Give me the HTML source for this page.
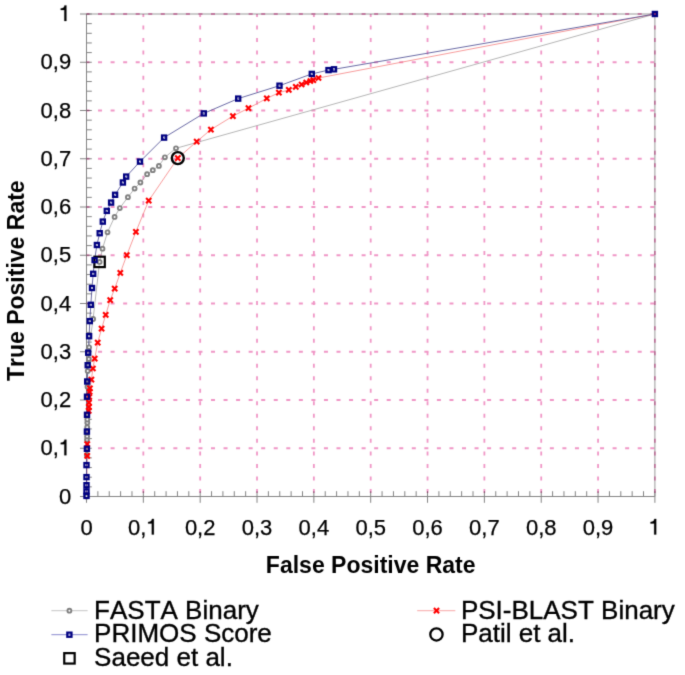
<!DOCTYPE html>
<html><head><meta charset="utf-8"><style>
html,body{margin:0;padding:0;background:#fff;}
svg{display:block;font-family:"Liberation Sans",sans-serif;font-kerning:none;}
</style></head><body>
<svg width="685" height="675" viewBox="0 0 685 675">
<defs><filter id="soft" x="0" y="0" width="685" height="675" filterUnits="userSpaceOnUse" color-interpolation-filters="sRGB"><feConvolveMatrix order="3" kernelMatrix="1 6 1 6 36 6 1 6 1" divisor="64" edgeMode="duplicate"/></filter></defs>
<g filter="url(#soft)">
<rect width="685" height="675" fill="#fff"/>
<path d="M86.5 14.0H654.9V496.5" fill="none" stroke="#999" stroke-width="1"/>
<path d="M86.5 14.0V496.5H654.9" fill="none" stroke="#848484" stroke-width="1"/>
<path d="M80.0 496.50H91.8M86.5 486.85H91.8M86.5 477.20H91.8M86.5 467.55H91.8M86.5 457.90H91.8M80.0 448.25H91.8M86.5 438.60H91.8M86.5 428.95H91.8M86.5 419.30H91.8M86.5 409.65H91.8M80.0 400.00H91.8M86.5 390.35H91.8M86.5 380.70H91.8M86.5 371.05H91.8M86.5 361.40H91.8M80.0 351.75H91.8M86.5 342.10H91.8M86.5 332.45H91.8M86.5 322.80H91.8M86.5 313.15H91.8M80.0 303.50H91.8M86.5 293.85H91.8M86.5 284.20H91.8M86.5 274.55H91.8M86.5 264.90H91.8M80.0 255.25H91.8M86.5 245.60H91.8M86.5 235.95H91.8M86.5 226.30H91.8M86.5 216.65H91.8M80.0 207.00H91.8M86.5 197.35H91.8M86.5 187.70H91.8M86.5 178.05H91.8M86.5 168.40H91.8M80.0 158.75H91.8M86.5 149.10H91.8M86.5 139.45H91.8M86.5 129.80H91.8M86.5 120.15H91.8M80.0 110.50H91.8M86.5 100.85H91.8M86.5 91.20H91.8M86.5 81.55H91.8M86.5 71.90H91.8M80.0 62.25H91.8M86.5 52.60H91.8M86.5 42.95H91.8M86.5 33.30H91.8M86.5 23.65H91.8M80.0 14.00H91.8M86.50 491.2V502.8M97.87 496.5V491.2M109.24 496.5V491.2M120.60 496.5V491.2M131.97 496.5V491.2M143.34 491.2V502.8M154.71 496.5V491.2M166.08 496.5V491.2M177.44 496.5V491.2M188.81 496.5V491.2M200.18 491.2V502.8M211.55 496.5V491.2M222.92 496.5V491.2M234.28 496.5V491.2M245.65 496.5V491.2M257.02 491.2V502.8M268.39 496.5V491.2M279.76 496.5V491.2M291.12 496.5V491.2M302.49 496.5V491.2M313.86 491.2V502.8M325.23 496.5V491.2M336.60 496.5V491.2M347.96 496.5V491.2M359.33 496.5V491.2M370.70 491.2V502.8M382.07 496.5V491.2M393.44 496.5V491.2M404.80 496.5V491.2M416.17 496.5V491.2M427.54 491.2V502.8M438.91 496.5V491.2M450.28 496.5V491.2M461.64 496.5V491.2M473.01 496.5V491.2M484.38 491.2V502.8M495.75 496.5V491.2M507.12 496.5V491.2M518.48 496.5V491.2M529.85 496.5V491.2M541.22 491.2V502.8M552.59 496.5V491.2M563.96 496.5V491.2M575.32 496.5V491.2M586.69 496.5V491.2M598.06 491.2V502.8M609.43 496.5V491.2M620.80 496.5V491.2M632.16 496.5V491.2M643.53 496.5V491.2M654.90 491.2V502.8" stroke="#848484" stroke-width="1" fill="none"/>
<g style="mix-blend-mode:multiply">
<line x1="86.5" y1="448.25" x2="654.9" y2="448.25" stroke="#f096c6" stroke-width="1.8" stroke-dasharray="4 8.55" stroke-dashoffset="1.0"/>
<line x1="86.5" y1="400.00" x2="654.9" y2="400.00" stroke="#f096c6" stroke-width="1.8" stroke-dasharray="4 8.55" stroke-dashoffset="1.0"/>
<line x1="86.5" y1="351.75" x2="654.9" y2="351.75" stroke="#f096c6" stroke-width="1.8" stroke-dasharray="4 8.55" stroke-dashoffset="1.0"/>
<line x1="86.5" y1="303.50" x2="654.9" y2="303.50" stroke="#f096c6" stroke-width="1.8" stroke-dasharray="4 8.55" stroke-dashoffset="1.0"/>
<line x1="86.5" y1="255.25" x2="654.9" y2="255.25" stroke="#f096c6" stroke-width="1.8" stroke-dasharray="4 8.55" stroke-dashoffset="1.0"/>
<line x1="86.5" y1="207.00" x2="654.9" y2="207.00" stroke="#f096c6" stroke-width="1.8" stroke-dasharray="4 8.55" stroke-dashoffset="1.0"/>
<line x1="86.5" y1="158.75" x2="654.9" y2="158.75" stroke="#f096c6" stroke-width="1.8" stroke-dasharray="4 8.55" stroke-dashoffset="1.0"/>
<line x1="86.5" y1="110.50" x2="654.9" y2="110.50" stroke="#f096c6" stroke-width="1.8" stroke-dasharray="4 8.55" stroke-dashoffset="1.0"/>
<line x1="86.5" y1="62.25" x2="654.9" y2="62.25" stroke="#f096c6" stroke-width="1.8" stroke-dasharray="4 8.55" stroke-dashoffset="1.0"/>
<line x1="86.5" y1="14.00" x2="654.9" y2="14.00" stroke="#f096c6" stroke-width="1.8" stroke-dasharray="4 8.55" stroke-dashoffset="1.0"/>
<line x1="143.34" y1="14.0" x2="143.34" y2="496.5" stroke="#f096c6" stroke-width="1.8" stroke-dasharray="4 8.525" stroke-dashoffset="1.0"/>
<line x1="200.18" y1="14.0" x2="200.18" y2="496.5" stroke="#f096c6" stroke-width="1.8" stroke-dasharray="4 8.525" stroke-dashoffset="1.0"/>
<line x1="257.02" y1="14.0" x2="257.02" y2="496.5" stroke="#f096c6" stroke-width="1.8" stroke-dasharray="4 8.525" stroke-dashoffset="1.0"/>
<line x1="313.86" y1="14.0" x2="313.86" y2="496.5" stroke="#f096c6" stroke-width="1.8" stroke-dasharray="4 8.525" stroke-dashoffset="1.0"/>
<line x1="370.70" y1="14.0" x2="370.70" y2="496.5" stroke="#f096c6" stroke-width="1.8" stroke-dasharray="4 8.525" stroke-dashoffset="1.0"/>
<line x1="427.54" y1="14.0" x2="427.54" y2="496.5" stroke="#f096c6" stroke-width="1.8" stroke-dasharray="4 8.525" stroke-dashoffset="1.0"/>
<line x1="484.38" y1="14.0" x2="484.38" y2="496.5" stroke="#f096c6" stroke-width="1.8" stroke-dasharray="4 8.525" stroke-dashoffset="1.0"/>
<line x1="541.22" y1="14.0" x2="541.22" y2="496.5" stroke="#f096c6" stroke-width="1.8" stroke-dasharray="4 8.525" stroke-dashoffset="1.0"/>
<line x1="598.06" y1="14.0" x2="598.06" y2="496.5" stroke="#f096c6" stroke-width="1.8" stroke-dasharray="4 8.525" stroke-dashoffset="1.0"/>
<line x1="654.90" y1="14.0" x2="654.90" y2="496.5" stroke="#f096c6" stroke-width="1.8" stroke-dasharray="4 8.525" stroke-dashoffset="1.0"/>
</g>
<polyline points="86.5,496.5 86.8,455.0 87.0,439.8 87.1,436.5 87.2,427.2 87.3,422.7 87.3,419.5 87.5,386.7 87.7,371.1 88.8,358.9 89.1,347.3 93.1,319.0 99.6,261.9 102.5,248.7 107.5,232.3 114.6,216.9 119.8,208.1 127.9,197.2 134.6,188.6 140.4,182.5 147.1,174.2 152.8,170.2 158.9,165.9 164.9,157.3 176.0,148.3 654.9,14.0" fill="none" stroke="#a2a2a2" stroke-width="0.8"/>
<polyline points="86.5,496.5 87.2,455.8 87.2,444.2 88.7,410.8 88.9,407.0 89.0,402.6 89.2,397.0 89.6,391.8 89.9,388.3 91.4,379.6 92.9,368.5 94.7,358.7 97.7,342.7 101.6,328.7 105.7,314.9 110.2,300.1 114.7,288.6 120.3,272.9 126.8,255.2 135.9,231.8 148.7,200.7 177.8,158.1 196.7,141.6 210.9,129.6 232.9,116.1 248.5,108.2 266.8,98.4 278.9,92.7 288.8,89.9 295.8,86.8 301.6,84.5 306.3,82.5 310.4,81.0 313.3,80.1 318.5,78.0 654.9,14.0" fill="none" stroke="#f47070" stroke-width="0.7"/>
<polyline points="86.5,495.9 86.5,491.4 86.5,485.2 86.5,477.1 86.5,465.1 86.9,448.8 86.9,431.6 87.0,414.8 87.0,396.7 87.2,381.5 87.7,365.2 88.2,352.7 89.1,336.2 89.8,321.1 90.8,304.8 92.0,288.0 93.2,273.8 94.6,260.1 96.9,245.0 99.7,233.2 102.8,221.6 106.8,210.9 111.1,202.6 115.1,194.8 122.9,182.5 126.2,176.6 140.0,161.6 164.1,137.6 203.8,113.4 238.2,98.6 279.5,85.7 311.8,73.9 328.5,70.1 334.0,69.3 654.9,14.0" fill="none" stroke="#44448e" stroke-width="0.8"/>
<rect x="94.4" y="256.7" width="10.4" height="10.4" fill="none" stroke="#000" stroke-width="2.2"/>
<circle cx="86.5" cy="496.5" r="1.95" fill="#fff" stroke="#808080" stroke-width="1.9"/>
<circle cx="86.8" cy="455.0" r="1.95" fill="#fff" stroke="#808080" stroke-width="1.9"/>
<circle cx="87.0" cy="439.8" r="1.95" fill="#fff" stroke="#808080" stroke-width="1.9"/>
<circle cx="87.1" cy="436.5" r="1.95" fill="#fff" stroke="#808080" stroke-width="1.9"/>
<circle cx="87.2" cy="427.2" r="1.95" fill="#fff" stroke="#808080" stroke-width="1.9"/>
<circle cx="87.3" cy="422.7" r="1.95" fill="#fff" stroke="#808080" stroke-width="1.9"/>
<circle cx="87.3" cy="419.5" r="1.95" fill="#fff" stroke="#808080" stroke-width="1.9"/>
<circle cx="87.5" cy="386.7" r="1.95" fill="#fff" stroke="#808080" stroke-width="1.9"/>
<circle cx="87.7" cy="371.1" r="1.95" fill="#fff" stroke="#808080" stroke-width="1.9"/>
<circle cx="88.8" cy="358.9" r="1.95" fill="#fff" stroke="#808080" stroke-width="1.9"/>
<circle cx="89.1" cy="347.3" r="1.95" fill="#fff" stroke="#808080" stroke-width="1.9"/>
<circle cx="93.1" cy="319.0" r="1.95" fill="#fff" stroke="#808080" stroke-width="1.9"/>
<circle cx="99.6" cy="261.9" r="1.95" fill="#fff" stroke="#808080" stroke-width="1.9"/>
<circle cx="102.5" cy="248.7" r="1.95" fill="#fff" stroke="#808080" stroke-width="1.9"/>
<circle cx="107.5" cy="232.3" r="1.95" fill="#fff" stroke="#808080" stroke-width="1.9"/>
<circle cx="114.6" cy="216.9" r="1.95" fill="#fff" stroke="#808080" stroke-width="1.9"/>
<circle cx="119.8" cy="208.1" r="1.95" fill="#fff" stroke="#808080" stroke-width="1.9"/>
<circle cx="127.9" cy="197.2" r="1.95" fill="#fff" stroke="#808080" stroke-width="1.9"/>
<circle cx="134.6" cy="188.6" r="1.95" fill="#fff" stroke="#808080" stroke-width="1.9"/>
<circle cx="140.4" cy="182.5" r="1.95" fill="#fff" stroke="#808080" stroke-width="1.9"/>
<circle cx="147.1" cy="174.2" r="1.95" fill="#fff" stroke="#808080" stroke-width="1.9"/>
<circle cx="152.8" cy="170.2" r="1.95" fill="#fff" stroke="#808080" stroke-width="1.9"/>
<circle cx="158.9" cy="165.9" r="1.95" fill="#fff" stroke="#808080" stroke-width="1.9"/>
<circle cx="164.9" cy="157.3" r="1.95" fill="#fff" stroke="#808080" stroke-width="1.9"/>
<circle cx="176.0" cy="148.3" r="1.95" fill="#fff" stroke="#808080" stroke-width="1.9"/>
<circle cx="654.9" cy="14.0" r="1.95" fill="#fff" stroke="#808080" stroke-width="1.9"/>
<path d="M84.60000000000001 453.2L89.8 458.40000000000003M84.60000000000001 458.40000000000003L89.8 453.2" stroke="#ff0000" stroke-width="2.1"/>
<path d="M84.60000000000001 441.59999999999997L89.8 446.8M84.60000000000001 446.8L89.8 441.59999999999997" stroke="#ff0000" stroke-width="2.1"/>
<path d="M86.10000000000001 408.2L91.3 413.40000000000003M86.10000000000001 413.40000000000003L91.3 408.2" stroke="#ff0000" stroke-width="2.1"/>
<path d="M86.30000000000001 404.4L91.5 409.6M86.30000000000001 409.6L91.5 404.4" stroke="#ff0000" stroke-width="2.1"/>
<path d="M86.4 400.0L91.6 405.20000000000005M86.4 405.20000000000005L91.6 400.0" stroke="#ff0000" stroke-width="2.1"/>
<path d="M86.60000000000001 394.4L91.8 399.6M86.60000000000001 399.6L91.8 394.4" stroke="#ff0000" stroke-width="2.1"/>
<path d="M87.0 389.2L92.19999999999999 394.40000000000003M87.0 394.40000000000003L92.19999999999999 389.2" stroke="#ff0000" stroke-width="2.1"/>
<path d="M87.30000000000001 385.7L92.5 390.90000000000003M87.30000000000001 390.90000000000003L92.5 385.7" stroke="#ff0000" stroke-width="2.1"/>
<path d="M88.80000000000001 377.0L94.0 382.20000000000005M88.80000000000001 382.20000000000005L94.0 377.0" stroke="#ff0000" stroke-width="2.1"/>
<path d="M90.30000000000001 365.9L95.5 371.1M90.30000000000001 371.1L95.5 365.9" stroke="#ff0000" stroke-width="2.1"/>
<path d="M92.10000000000001 356.09999999999997L97.3 361.3M92.10000000000001 361.3L97.3 356.09999999999997" stroke="#ff0000" stroke-width="2.1"/>
<path d="M95.10000000000001 340.09999999999997L100.3 345.3M95.10000000000001 345.3L100.3 340.09999999999997" stroke="#ff0000" stroke-width="2.1"/>
<path d="M99.0 326.09999999999997L104.19999999999999 331.3M99.0 331.3L104.19999999999999 326.09999999999997" stroke="#ff0000" stroke-width="2.1"/>
<path d="M103.10000000000001 312.29999999999995L108.3 317.5M103.10000000000001 317.5L108.3 312.29999999999995" stroke="#ff0000" stroke-width="2.1"/>
<path d="M107.60000000000001 297.5L112.8 302.70000000000005M107.60000000000001 302.70000000000005L112.8 297.5" stroke="#ff0000" stroke-width="2.1"/>
<path d="M112.10000000000001 286.0L117.3 291.20000000000005M112.10000000000001 291.20000000000005L117.3 286.0" stroke="#ff0000" stroke-width="2.1"/>
<path d="M117.7 270.29999999999995L122.89999999999999 275.5M117.7 275.5L122.89999999999999 270.29999999999995" stroke="#ff0000" stroke-width="2.1"/>
<path d="M124.2 252.6L129.4 257.8M124.2 257.8L129.4 252.6" stroke="#ff0000" stroke-width="2.1"/>
<path d="M133.3 229.20000000000002L138.5 234.4M133.3 234.4L138.5 229.20000000000002" stroke="#ff0000" stroke-width="2.1"/>
<path d="M146.1 198.1L151.29999999999998 203.29999999999998M146.1 203.29999999999998L151.29999999999998 198.1" stroke="#ff0000" stroke-width="2.1"/>
<path d="M175.20000000000002 155.5L180.4 160.7M175.20000000000002 160.7L180.4 155.5" stroke="#ff0000" stroke-width="2.1"/>
<path d="M194.1 139.0L199.29999999999998 144.2M194.1 144.2L199.29999999999998 139.0" stroke="#ff0000" stroke-width="2.1"/>
<path d="M208.3 127.0L213.5 132.2M208.3 132.2L213.5 127.0" stroke="#ff0000" stroke-width="2.1"/>
<path d="M230.3 113.5L235.5 118.69999999999999M230.3 118.69999999999999L235.5 113.5" stroke="#ff0000" stroke-width="2.1"/>
<path d="M245.9 105.60000000000001L251.1 110.8M245.9 110.8L251.1 105.60000000000001" stroke="#ff0000" stroke-width="2.1"/>
<path d="M264.2 95.80000000000001L269.40000000000003 101.0M264.2 101.0L269.40000000000003 95.80000000000001" stroke="#ff0000" stroke-width="2.1"/>
<path d="M276.29999999999995 90.10000000000001L281.5 95.3M276.29999999999995 95.3L281.5 90.10000000000001" stroke="#ff0000" stroke-width="2.1"/>
<path d="M286.2 87.30000000000001L291.40000000000003 92.5M286.2 92.5L291.40000000000003 87.30000000000001" stroke="#ff0000" stroke-width="2.1"/>
<path d="M293.2 84.2L298.40000000000003 89.39999999999999M293.2 89.39999999999999L298.40000000000003 84.2" stroke="#ff0000" stroke-width="2.1"/>
<path d="M299.0 81.9L304.20000000000005 87.1M299.0 87.1L304.20000000000005 81.9" stroke="#ff0000" stroke-width="2.1"/>
<path d="M303.7 79.9L308.90000000000003 85.1M303.7 85.1L308.90000000000003 79.9" stroke="#ff0000" stroke-width="2.1"/>
<path d="M307.79999999999995 78.4L313.0 83.6M307.79999999999995 83.6L313.0 78.4" stroke="#ff0000" stroke-width="2.1"/>
<path d="M310.7 77.5L315.90000000000003 82.69999999999999M310.7 82.69999999999999L315.90000000000003 77.5" stroke="#ff0000" stroke-width="2.1"/>
<path d="M315.9 75.4L321.1 80.6M315.9 80.6L321.1 75.4" stroke="#ff0000" stroke-width="2.1"/>
<circle cx="177.8" cy="158.1" r="6.0" fill="none" stroke="#000" stroke-width="2.4"/>
<rect x="84.40" y="493.80" width="4.2" height="4.2" fill="none" stroke="#000080" stroke-width="2.2"/>
<rect x="84.40" y="489.30" width="4.2" height="4.2" fill="none" stroke="#000080" stroke-width="2.2"/>
<rect x="84.40" y="483.10" width="4.2" height="4.2" fill="none" stroke="#000080" stroke-width="2.2"/>
<rect x="84.40" y="475.00" width="4.2" height="4.2" fill="none" stroke="#000080" stroke-width="2.2"/>
<rect x="84.40" y="463.00" width="4.2" height="4.2" fill="none" stroke="#000080" stroke-width="2.2"/>
<rect x="84.80" y="446.70" width="4.2" height="4.2" fill="none" stroke="#000080" stroke-width="2.2"/>
<rect x="84.80" y="429.50" width="4.2" height="4.2" fill="none" stroke="#000080" stroke-width="2.2"/>
<rect x="84.90" y="412.70" width="4.2" height="4.2" fill="none" stroke="#000080" stroke-width="2.2"/>
<rect x="84.90" y="394.60" width="4.2" height="4.2" fill="none" stroke="#000080" stroke-width="2.2"/>
<rect x="85.10" y="379.40" width="4.2" height="4.2" fill="none" stroke="#000080" stroke-width="2.2"/>
<rect x="85.60" y="363.10" width="4.2" height="4.2" fill="none" stroke="#000080" stroke-width="2.2"/>
<rect x="86.10" y="350.60" width="4.2" height="4.2" fill="none" stroke="#000080" stroke-width="2.2"/>
<rect x="87.00" y="334.10" width="4.2" height="4.2" fill="none" stroke="#000080" stroke-width="2.2"/>
<rect x="87.70" y="319.00" width="4.2" height="4.2" fill="none" stroke="#000080" stroke-width="2.2"/>
<rect x="88.70" y="302.70" width="4.2" height="4.2" fill="none" stroke="#000080" stroke-width="2.2"/>
<rect x="89.90" y="285.90" width="4.2" height="4.2" fill="none" stroke="#000080" stroke-width="2.2"/>
<rect x="91.10" y="271.70" width="4.2" height="4.2" fill="none" stroke="#000080" stroke-width="2.2"/>
<rect x="92.50" y="258.00" width="4.2" height="4.2" fill="none" stroke="#000080" stroke-width="2.2"/>
<rect x="94.80" y="242.90" width="4.2" height="4.2" fill="none" stroke="#000080" stroke-width="2.2"/>
<rect x="97.60" y="231.10" width="4.2" height="4.2" fill="none" stroke="#000080" stroke-width="2.2"/>
<rect x="100.70" y="219.50" width="4.2" height="4.2" fill="none" stroke="#000080" stroke-width="2.2"/>
<rect x="104.70" y="208.80" width="4.2" height="4.2" fill="none" stroke="#000080" stroke-width="2.2"/>
<rect x="109.00" y="200.50" width="4.2" height="4.2" fill="none" stroke="#000080" stroke-width="2.2"/>
<rect x="113.00" y="192.70" width="4.2" height="4.2" fill="none" stroke="#000080" stroke-width="2.2"/>
<rect x="120.80" y="180.40" width="4.2" height="4.2" fill="none" stroke="#000080" stroke-width="2.2"/>
<rect x="124.10" y="174.50" width="4.2" height="4.2" fill="none" stroke="#000080" stroke-width="2.2"/>
<rect x="137.90" y="159.50" width="4.2" height="4.2" fill="none" stroke="#000080" stroke-width="2.2"/>
<rect x="162.00" y="135.50" width="4.2" height="4.2" fill="none" stroke="#000080" stroke-width="2.2"/>
<rect x="201.70" y="111.30" width="4.2" height="4.2" fill="none" stroke="#000080" stroke-width="2.2"/>
<rect x="236.10" y="96.50" width="4.2" height="4.2" fill="none" stroke="#000080" stroke-width="2.2"/>
<rect x="277.40" y="83.60" width="4.2" height="4.2" fill="none" stroke="#000080" stroke-width="2.2"/>
<rect x="309.70" y="71.80" width="4.2" height="4.2" fill="none" stroke="#000080" stroke-width="2.2"/>
<rect x="326.40" y="68.00" width="4.2" height="4.2" fill="none" stroke="#000080" stroke-width="2.2"/>
<rect x="331.90" y="67.20" width="4.2" height="4.2" fill="none" stroke="#000080" stroke-width="2.2"/>
<rect x="652.80" y="11.90" width="4.2" height="4.2" fill="#702070" stroke="#000080" stroke-width="2.2"/>
<g font-size="22" fill="#000" stroke="#000" stroke-width="0.25"><text x="71.2" y="503.50" text-anchor="end">0</text><text x="58.96" y="455.25" text-anchor="end">0,</text><path transform="translate(58.96,455.25) scale(22)" stroke-width="0.0114" d="M0.338 0L0.245 0L0.245 -0.50L0.08 -0.50L0.08 -0.57C0.18 -0.575 0.235 -0.61 0.255 -0.709L0.338 -0.709Z"/><text x="71.2" y="407.00" text-anchor="end">0,2</text><text x="71.2" y="358.75" text-anchor="end">0,3</text><text x="71.2" y="310.50" text-anchor="end">0,4</text><text x="71.2" y="262.25" text-anchor="end">0,5</text><text x="71.2" y="214.00" text-anchor="end">0,6</text><text x="71.2" y="165.75" text-anchor="end">0,7</text><text x="71.2" y="117.50" text-anchor="end">0,8</text><text x="71.2" y="69.25" text-anchor="end">0,9</text><path transform="translate(58.96,21.00) scale(22)" stroke-width="0.0114" d="M0.338 0L0.245 0L0.245 -0.50L0.08 -0.50L0.08 -0.57C0.18 -0.575 0.235 -0.61 0.255 -0.709L0.338 -0.709Z"/><text x="86.50" y="534.5" text-anchor="middle">0</text><text x="128.05" y="534.5">0,</text><path transform="translate(146.40,534.50) scale(22)" stroke-width="0.0114" d="M0.338 0L0.245 0L0.245 -0.50L0.08 -0.50L0.08 -0.57C0.18 -0.575 0.235 -0.61 0.255 -0.709L0.338 -0.709Z"/><text x="200.18" y="534.5" text-anchor="middle">0,2</text><text x="257.02" y="534.5" text-anchor="middle">0,3</text><text x="313.86" y="534.5" text-anchor="middle">0,4</text><text x="370.70" y="534.5" text-anchor="middle">0,5</text><text x="427.54" y="534.5" text-anchor="middle">0,6</text><text x="484.38" y="534.5" text-anchor="middle">0,7</text><text x="541.22" y="534.5" text-anchor="middle">0,8</text><text x="598.06" y="534.5" text-anchor="middle">0,9</text><path transform="translate(648.78,534.50) scale(22)" stroke-width="0.0114" d="M0.338 0L0.245 0L0.245 -0.50L0.08 -0.50L0.08 -0.57C0.18 -0.575 0.235 -0.61 0.255 -0.709L0.338 -0.709Z"/></g>
<text x="370.7" y="573" font-size="23" font-weight="bold" text-anchor="middle">False Positive Rate</text>
<text transform="translate(24.2,280.7) rotate(-90)" font-size="23" font-weight="bold" text-anchor="middle">True Positive Rate</text>
<line x1="51.4" y1="610.7" x2="87.6" y2="610.7" stroke="#b4b4b4" stroke-width="0.8"/>
<circle cx="69.4" cy="610.7" r="1.95" fill="#fff" stroke="#808080" stroke-width="1.9"/>
<line x1="51.4" y1="634.7" x2="87.6" y2="634.7" stroke="#6a6ac0" stroke-width="0.8"/>
<rect x="67.3" y="632.6" width="4.2" height="4.2" fill="none" stroke="#000080" stroke-width="2.2"/>
<rect x="64.25" y="653.15" width="10.4" height="10.4" fill="none" stroke="#000" stroke-width="2.2"/>
<line x1="417.2" y1="610.7" x2="455.3" y2="610.7" stroke="#f48080" stroke-width="0.7"/>
<path d="M433.9 608.1L439.1 613.3000000000001M433.9 613.3000000000001L439.1 608.1" stroke="#ff0000" stroke-width="2.1"/>
<circle cx="436.45" cy="634.45" r="6.15" fill="none" stroke="#000" stroke-width="2.3"/>
<g font-size="26" fill="#000" stroke="#000" stroke-width="0.35">
<text x="94.1" y="618.5">FASTA Binary</text>
<text x="94.1" y="642.3">PRIMOS Score</text>
<text x="94.1" y="666.1">Saeed et al.</text>
<text x="460.9" y="618.5">PSI-BLAST Binary</text>
<text x="460.9" y="642.3">Patil et al.</text>
</g>
</g>
</svg>
</body></html>
